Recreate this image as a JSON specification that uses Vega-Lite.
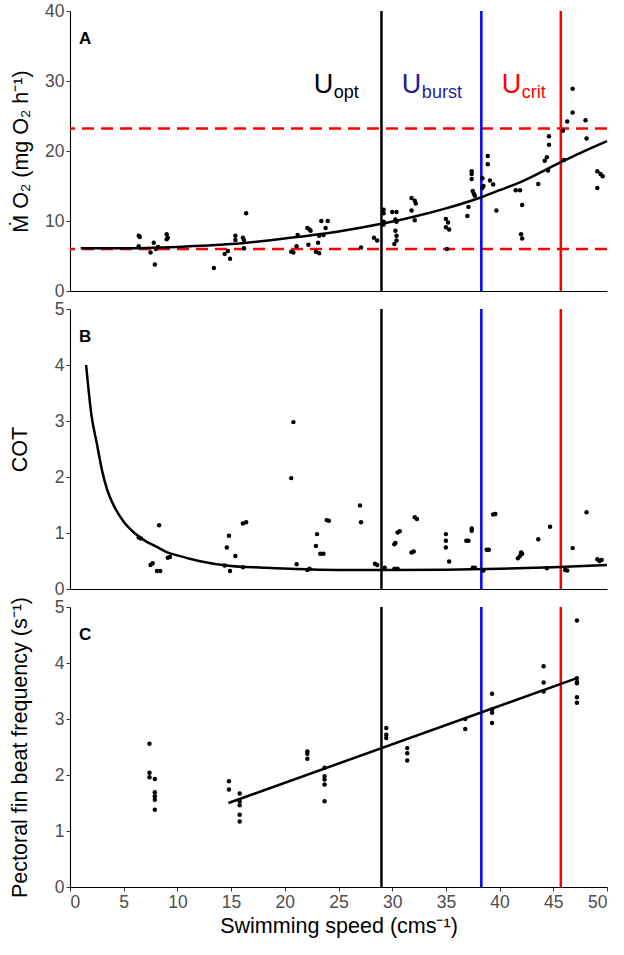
{
  "$schema": "https://vega.github.io/schema/vega-lite/v6.json",
  "description": "Oxygen uptake, cost of transport and pectoral fin beat frequency against swimming speed",
  "background": "white",
  "padding": {"left": 9, "top": 2, "right": 5, "bottom": 5},
  "spacing": 18,
  "bounds": "flush",
  "datasets": {
    "mo2_pts": [
      {"speed": 6.4, "value": 7.9}, {"speed": 6.5, "value": 7.7}, {"speed": 6.4, "value": 6.4},
      {"speed": 7.5, "value": 5.5}, {"speed": 7.8, "value": 6.9}, {"speed": 8.0, "value": 6.0},
      {"speed": 8.2, "value": 6.3}, {"speed": 7.9, "value": 3.8}, {"speed": 9.0, "value": 8.1},
      {"speed": 9.1, "value": 7.6}, {"speed": 9.0, "value": 7.4},
      {"speed": 13.4, "value": 3.3}, {"speed": 14.4, "value": 5.3}, {"speed": 14.7, "value": 5.7},
      {"speed": 14.9, "value": 4.6}, {"speed": 15.4, "value": 7.9}, {"speed": 15.4, "value": 7.3},
      {"speed": 16.1, "value": 7.6}, {"speed": 16.2, "value": 7.3}, {"speed": 16.4, "value": 11.1},
      {"speed": 16.2, "value": 6.1},
      {"speed": 20.6, "value": 5.6}, {"speed": 20.8, "value": 5.5}, {"speed": 21.1, "value": 6.4},
      {"speed": 21.2, "value": 8.0}, {"speed": 22.1, "value": 9.0}, {"speed": 22.3, "value": 8.8},
      {"speed": 22.4, "value": 8.6}, {"speed": 22.2, "value": 6.6}, {"speed": 22.9, "value": 5.6},
      {"speed": 23.2, "value": 5.4}, {"speed": 23.1, "value": 6.9}, {"speed": 23.2, "value": 7.9},
      {"speed": 23.4, "value": 10.0}, {"speed": 24.0, "value": 10.0}, {"speed": 23.8, "value": 9.0},
      {"speed": 23.6, "value": 8.0},
      {"speed": 27.1, "value": 6.2}, {"speed": 28.3, "value": 7.6}, {"speed": 28.6, "value": 7.2},
      {"speed": 29.2, "value": 11.6}, {"speed": 29.2, "value": 11.1}, {"speed": 29.2, "value": 9.9},
      {"speed": 29.2, "value": 9.5}, {"speed": 30.0, "value": 11.3}, {"speed": 30.4, "value": 11.3},
      {"speed": 30.3, "value": 10.2}, {"speed": 30.4, "value": 9.9}, {"speed": 30.3, "value": 8.6},
      {"speed": 30.4, "value": 7.9}, {"speed": 30.4, "value": 7.2}, {"speed": 30.2, "value": 6.7},
      {"speed": 31.8, "value": 13.3}, {"speed": 32.1, "value": 12.9}, {"speed": 32.2, "value": 12.5},
      {"speed": 31.8, "value": 11.5}, {"speed": 32.1, "value": 10.1},
      {"speed": 35.0, "value": 10.3}, {"speed": 35.2, "value": 9.8}, {"speed": 35.0, "value": 9.1},
      {"speed": 35.3, "value": 8.8}, {"speed": 35.1, "value": 6.0}, {"speed": 37.0, "value": 10.7},
      {"speed": 37.1, "value": 12.0}, {"speed": 37.4, "value": 17.1}, {"speed": 37.4, "value": 16.7},
      {"speed": 37.4, "value": 16.0}, {"speed": 37.5, "value": 14.3}, {"speed": 37.6, "value": 13.9},
      {"speed": 37.7, "value": 13.6}, {"speed": 38.4, "value": 16.1}, {"speed": 38.5, "value": 15.0},
      {"speed": 38.4, "value": 14.7}, {"speed": 38.9, "value": 19.3}, {"speed": 38.9, "value": 18.1},
      {"speed": 39.1, "value": 15.8}, {"speed": 39.4, "value": 15.2}, {"speed": 39.7, "value": 11.5},
      {"speed": 41.5, "value": 14.4}, {"speed": 41.9, "value": 14.4}, {"speed": 42.1, "value": 12.3},
      {"speed": 42.0, "value": 8.1}, {"speed": 42.1, "value": 7.5}, {"speed": 43.6, "value": 15.3},
      {"speed": 44.2, "value": 18.6}, {"speed": 44.4, "value": 19.1}, {"speed": 44.5, "value": 17.2},
      {"speed": 44.6, "value": 20.9}, {"speed": 44.6, "value": 22.1}, {"speed": 46.0, "value": 18.7},
      {"speed": 45.9, "value": 22.9}, {"speed": 46.3, "value": 24.2}, {"speed": 46.8, "value": 25.5},
      {"speed": 46.8, "value": 28.9}, {"speed": 48.0, "value": 24.4}, {"speed": 48.1, "value": 21.8},
      {"speed": 49.1, "value": 17.1}, {"speed": 49.4, "value": 16.7}, {"speed": 49.6, "value": 16.4},
      {"speed": 49.1, "value": 14.7}
    ],
    "mo2_fit": [
      {"speed": 1, "value": 6.1}, {"speed": 5, "value": 6.1}, {"speed": 10, "value": 6.3},
      {"speed": 15, "value": 6.7}, {"speed": 20, "value": 7.5}, {"speed": 25, "value": 8.5},
      {"speed": 29, "value": 9.6}, {"speed": 32, "value": 10.6}, {"speed": 35, "value": 11.8},
      {"speed": 38.3, "value": 13.4}, {"speed": 40, "value": 14.4}, {"speed": 42, "value": 15.6},
      {"speed": 45.7, "value": 18.4}, {"speed": 47.5, "value": 19.7}, {"speed": 50, "value": 21.4}
    ],
    "mo2_limits": [{"value": 23.2}, {"value": 6.0}],
    "cot_pts": [
      {"speed": 6.4, "value": 0.92}, {"speed": 6.6, "value": 0.9}, {"speed": 8.3, "value": 1.14},
      {"speed": 7.5, "value": 0.43}, {"speed": 7.7, "value": 0.46}, {"speed": 8.1, "value": 0.32},
      {"speed": 8.4, "value": 0.32}, {"speed": 9.1, "value": 0.56}, {"speed": 9.3, "value": 0.57},
      {"speed": 14.4, "value": 0.42}, {"speed": 14.9, "value": 0.32}, {"speed": 14.6, "value": 0.74},
      {"speed": 14.8, "value": 0.95}, {"speed": 15.4, "value": 0.59}, {"speed": 16.1, "value": 1.17},
      {"speed": 16.4, "value": 1.19}, {"speed": 16.1, "value": 0.39},
      {"speed": 20.8, "value": 2.98}, {"speed": 20.6, "value": 1.98}, {"speed": 21.1, "value": 0.44},
      {"speed": 22.1, "value": 0.34}, {"speed": 22.3, "value": 0.36}, {"speed": 23.0, "value": 0.98},
      {"speed": 22.9, "value": 0.77}, {"speed": 23.3, "value": 0.63}, {"speed": 23.6, "value": 0.63},
      {"speed": 23.9, "value": 1.23}, {"speed": 24.1, "value": 1.22},
      {"speed": 27.0, "value": 1.49}, {"speed": 27.1, "value": 1.19}, {"speed": 28.4, "value": 0.45},
      {"speed": 28.6, "value": 0.43}, {"speed": 29.3, "value": 0.38}, {"speed": 30.2, "value": 0.36},
      {"speed": 30.5, "value": 0.36}, {"speed": 30.2, "value": 0.8}, {"speed": 30.3, "value": 0.82},
      {"speed": 30.5, "value": 1.01}, {"speed": 30.7, "value": 1.03}, {"speed": 31.8, "value": 0.65},
      {"speed": 32.0, "value": 0.67}, {"speed": 32.1, "value": 1.28}, {"speed": 32.3, "value": 1.25},
      {"speed": 35.0, "value": 0.98}, {"speed": 35.0, "value": 0.86}, {"speed": 35.0, "value": 0.74},
      {"speed": 35.3, "value": 0.49}, {"speed": 36.9, "value": 0.86}, {"speed": 37.1, "value": 0.86},
      {"speed": 37.4, "value": 1.08}, {"speed": 37.4, "value": 1.04}, {"speed": 37.5, "value": 0.38},
      {"speed": 37.7, "value": 0.38}, {"speed": 38.5, "value": 0.33}, {"speed": 38.8, "value": 0.7},
      {"speed": 39.0, "value": 0.7}, {"speed": 39.4, "value": 1.33}, {"speed": 39.6, "value": 1.34},
      {"speed": 41.7, "value": 0.55}, {"speed": 41.9, "value": 0.59}, {"speed": 42.0, "value": 0.65},
      {"speed": 42.1, "value": 0.63}, {"speed": 43.6, "value": 0.89}, {"speed": 44.4, "value": 0.37},
      {"speed": 44.7, "value": 1.11}, {"speed": 46.1, "value": 0.34}, {"speed": 46.3, "value": 0.33},
      {"speed": 46.8, "value": 0.73}, {"speed": 48.1, "value": 1.37}, {"speed": 49.1, "value": 0.53},
      {"speed": 49.3, "value": 0.5}, {"speed": 49.5, "value": 0.52}
    ],
    "cot_fit": [
      {"speed": 1.5, "value": 4.0}, {"speed": 2, "value": 3.1}, {"speed": 2.5, "value": 2.6},
      {"speed": 3, "value": 2.1}, {"speed": 3.5, "value": 1.75}, {"speed": 4, "value": 1.52},
      {"speed": 5, "value": 1.2}, {"speed": 6, "value": 1.0}, {"speed": 7, "value": 0.86},
      {"speed": 8, "value": 0.76}, {"speed": 9, "value": 0.66}, {"speed": 10, "value": 0.6},
      {"speed": 12, "value": 0.5}, {"speed": 15, "value": 0.41}, {"speed": 18, "value": 0.38},
      {"speed": 21, "value": 0.355}, {"speed": 25, "value": 0.34}, {"speed": 30, "value": 0.34},
      {"speed": 35, "value": 0.345}, {"speed": 40, "value": 0.36}, {"speed": 45, "value": 0.39},
      {"speed": 50, "value": 0.43}
    ],
    "fbf_pts": [
      {"speed": 7.4, "value": 2.56}, {"speed": 7.4, "value": 2.04}, {"speed": 7.4, "value": 1.96},
      {"speed": 7.9, "value": 1.93}, {"speed": 7.9, "value": 1.69}, {"speed": 7.9, "value": 1.62},
      {"speed": 7.9, "value": 1.56}, {"speed": 7.9, "value": 1.38},
      {"speed": 14.8, "value": 1.89}, {"speed": 14.8, "value": 1.74}, {"speed": 15.8, "value": 1.67},
      {"speed": 15.8, "value": 1.53}, {"speed": 15.8, "value": 1.46}, {"speed": 15.8, "value": 1.29},
      {"speed": 15.8, "value": 1.17},
      {"speed": 22.1, "value": 2.42}, {"speed": 22.1, "value": 2.38}, {"speed": 22.1, "value": 2.29},
      {"speed": 23.7, "value": 2.13}, {"speed": 23.7, "value": 1.98}, {"speed": 23.7, "value": 1.92},
      {"speed": 23.7, "value": 1.83}, {"speed": 23.7, "value": 1.53},
      {"speed": 29.45, "value": 2.84}, {"speed": 29.45, "value": 2.72}, {"speed": 29.45, "value": 2.66},
      {"speed": 31.4, "value": 2.48}, {"speed": 31.4, "value": 2.39}, {"speed": 31.4, "value": 2.26},
      {"speed": 36.8, "value": 3.0}, {"speed": 36.8, "value": 2.82},
      {"speed": 39.3, "value": 3.45}, {"speed": 39.3, "value": 3.17}, {"speed": 39.3, "value": 3.11},
      {"speed": 39.3, "value": 2.93},
      {"speed": 44.1, "value": 3.94}, {"speed": 44.1, "value": 3.65}, {"speed": 44.1, "value": 3.49},
      {"speed": 47.2, "value": 4.76}, {"speed": 47.2, "value": 3.73}, {"speed": 47.2, "value": 3.66},
      {"speed": 47.2, "value": 3.64}, {"speed": 47.2, "value": 3.39}, {"speed": 47.2, "value": 3.29}
    ],
    "fbf_fit": [{"speed": 14.75, "value": 1.5}, {"speed": 47.2, "value": 3.73}],
    "speeds": [
      {"name": "Uopt", "speed": 29.0},
      {"name": "Uburst", "speed": 38.3},
      {"name": "Ucrit", "speed": 45.7}
    ],
    "labels": [
      {"name": "Uopt", "main": "U", "sub": "opt", "speed": 22.7, "value": 28.3},
      {"name": "Uburst", "main": "U", "sub": "burst", "speed": 30.9, "value": 28.3},
      {"name": "Ucrit", "main": "U", "sub": "crit", "speed": 40.2, "value": 28.3}
    ]
  },
  "vconcat": [
    {
      "width": 537,
      "height": 280,
      "layer": [
        {
          "data": {"name": "mo2_limits"},
          "mark": {"type": "rule", "color": "#ff0000", "strokeWidth": 2.5, "strokeDash": [12, 7]},
          "encoding": {
            "y": {"field": "value", "type": "quantitative", "title": "Ṁ O₂ (mg O₂ h⁻¹)",
                  "scale": {"domain": [0, 40], "nice": false},
                  "axis": {"values": [0, 10, 20, 30, 40], "titlePadding": 12}}
          }
        },
        {
          "data": {"name": "speeds"},
          "mark": {"type": "rule", "strokeWidth": 2.5},
          "encoding": {
            "x": {"field": "speed", "type": "quantitative", "title": null,
                  "scale": {"domain": [0, 50], "nice": false},
                  "axis": {"labels": false, "ticks": false}},
            "color": {"field": "name", "type": "nominal", "legend": null,
                      "scale": {"domain": ["Uopt", "Uburst", "Ucrit"], "range": ["#000000", "#0000ff", "#ff0000"]}}
          }
        },
        {
          "data": {"name": "mo2_pts"},
          "mark": {"type": "circle", "size": 20, "color": "#000000", "opacity": 1},
          "encoding": {
            "x": {"field": "speed", "type": "quantitative", "title": null},
            "y": {"field": "value", "type": "quantitative", "title": "Ṁ O₂ (mg O₂ h⁻¹)"}
          }
        },
        {
          "data": {"name": "mo2_fit"},
          "mark": {"type": "line", "color": "#000000", "strokeWidth": 2.5, "interpolate": "monotone"},
          "encoding": {
            "x": {"field": "speed", "type": "quantitative", "title": null},
            "y": {"field": "value", "type": "quantitative", "title": "Ṁ O₂ (mg O₂ h⁻¹)"}
          }
        },
        {
          "data": {"name": "labels"},
          "mark": {"type": "text", "fontSize": 27, "align": "left", "baseline": "alphabetic"},
          "encoding": {
            "x": {"field": "speed", "type": "quantitative", "title": null},
            "y": {"field": "value", "type": "quantitative", "title": "Ṁ O₂ (mg O₂ h⁻¹)"},
            "text": {"field": "main"},
            "color": {"field": "name", "type": "nominal", "legend": null,
                      "scale": {"domain": ["Uopt", "Uburst", "Ucrit"], "range": ["#000000", "#1f1f99", "#ff0000"]}}
          }
        },
        {
          "data": {"name": "labels"},
          "mark": {"type": "text", "fontSize": 18, "align": "left", "baseline": "alphabetic", "dx": 20, "dy": 5},
          "encoding": {
            "x": {"field": "speed", "type": "quantitative", "title": null},
            "y": {"field": "value", "type": "quantitative", "title": "Ṁ O₂ (mg O₂ h⁻¹)"},
            "text": {"field": "sub"},
            "color": {"field": "name", "type": "nominal", "legend": null,
                      "scale": {"domain": ["Uopt", "Uburst", "Ucrit"], "range": ["#000000", "#1f1f99", "#ff0000"]}}
          }
        },
        {
          "data": {"values": [{"panel": "A"}]},
          "mark": {"type": "text", "fontSize": 17, "fontWeight": "bold", "color": "#000000"},
          "encoding": {"x": {"datum": 1.4}, "y": {"datum": 36}, "text": {"field": "panel"}}
        }
      ],
      "resolve": {"scale": {"color": "independent"}}
    },
    {
      "width": 537,
      "height": 280,
      "layer": [
        {
          "data": {"name": "speeds"},
          "mark": {"type": "rule", "strokeWidth": 2.5},
          "encoding": {
            "x": {"field": "speed", "type": "quantitative", "title": null,
                  "scale": {"domain": [0, 50], "nice": false},
                  "axis": {"labels": false, "ticks": false}},
            "color": {"field": "name", "type": "nominal", "legend": null,
                      "scale": {"domain": ["Uopt", "Uburst", "Ucrit"], "range": ["#000000", "#0000ff", "#ff0000"]}}
          }
        },
        {
          "data": {"name": "cot_pts"},
          "mark": {"type": "circle", "size": 20, "color": "#000000", "opacity": 1},
          "encoding": {
            "x": {"field": "speed", "type": "quantitative", "title": null},
            "y": {"field": "value", "type": "quantitative", "title": "COT",
                  "scale": {"domain": [0, 5], "nice": false},
                  "axis": {"values": [0, 1, 2, 3, 4, 5], "titlePadding": 23}}
          }
        },
        {
          "data": {"name": "cot_fit"},
          "mark": {"type": "line", "color": "#000000", "strokeWidth": 2.5, "interpolate": "monotone"},
          "encoding": {
            "x": {"field": "speed", "type": "quantitative", "title": null},
            "y": {"field": "value", "type": "quantitative", "title": "COT"}
          }
        },
        {
          "data": {"values": [{"panel": "B"}]},
          "mark": {"type": "text", "fontSize": 17, "fontWeight": "bold", "color": "#000000"},
          "encoding": {"x": {"datum": 1.4}, "y": {"datum": 4.5}, "text": {"field": "panel"}}
        }
      ]
    },
    {
      "width": 537,
      "height": 280,
      "layer": [
        {
          "data": {"name": "speeds"},
          "mark": {"type": "rule", "strokeWidth": 2.5},
          "encoding": {
            "x": {"field": "speed", "type": "quantitative", "title": "Swimming speed (cms⁻¹)",
                  "scale": {"domain": [0, 50], "nice": false},
                  "axis": {"values": [0, 5, 10, 15, 20, 25, 30, 35, 40, 45, 50], "titlePadding": 5}},
            "color": {"field": "name", "type": "nominal", "legend": null,
                      "scale": {"domain": ["Uopt", "Uburst", "Ucrit"], "range": ["#000000", "#0000ff", "#ff0000"]}}
          }
        },
        {
          "data": {"name": "fbf_pts"},
          "mark": {"type": "circle", "size": 20, "color": "#000000", "opacity": 1},
          "encoding": {
            "x": {"field": "speed", "type": "quantitative", "title": "Swimming speed (cms⁻¹)"},
            "y": {"field": "value", "type": "quantitative", "title": "Pectoral fin beat frequency (s⁻¹)",
                  "scale": {"domain": [0, 5], "nice": false},
                  "axis": {"values": [0, 1, 2, 3, 4, 5], "titlePadding": 23}}
          }
        },
        {
          "data": {"name": "fbf_fit"},
          "mark": {"type": "line", "color": "#000000", "strokeWidth": 2.5},
          "encoding": {
            "x": {"field": "speed", "type": "quantitative", "title": "Swimming speed (cms⁻¹)"},
            "y": {"field": "value", "type": "quantitative", "title": "Pectoral fin beat frequency (s⁻¹)"}
          }
        },
        {
          "data": {"values": [{"panel": "C"}]},
          "mark": {"type": "text", "fontSize": 17, "fontWeight": "bold", "color": "#000000"},
          "encoding": {"x": {"datum": 1.4}, "y": {"datum": 4.5}, "text": {"field": "panel"}}
        }
      ]
    }
  ],
  "config": {
    "font": "Liberation Sans",
    "view": {"stroke": null},
    "axis": {
      "grid": false,
      "domainColor": "#000000",
      "domainWidth": 1.1,
      "tickColor": "#333333",
      "tickSize": 4,
      "labelFont": "Liberation Sans",
      "labelFontSize": 17.5,
      "labelColor": "#4d4d4d",
      "labelPadding": 2,
      "titleFont": "Liberation Sans",
      "titleFontSize": 21.5,
      "titleFontWeight": "normal",
      "titleColor": "#000000"
    }
  }
}
